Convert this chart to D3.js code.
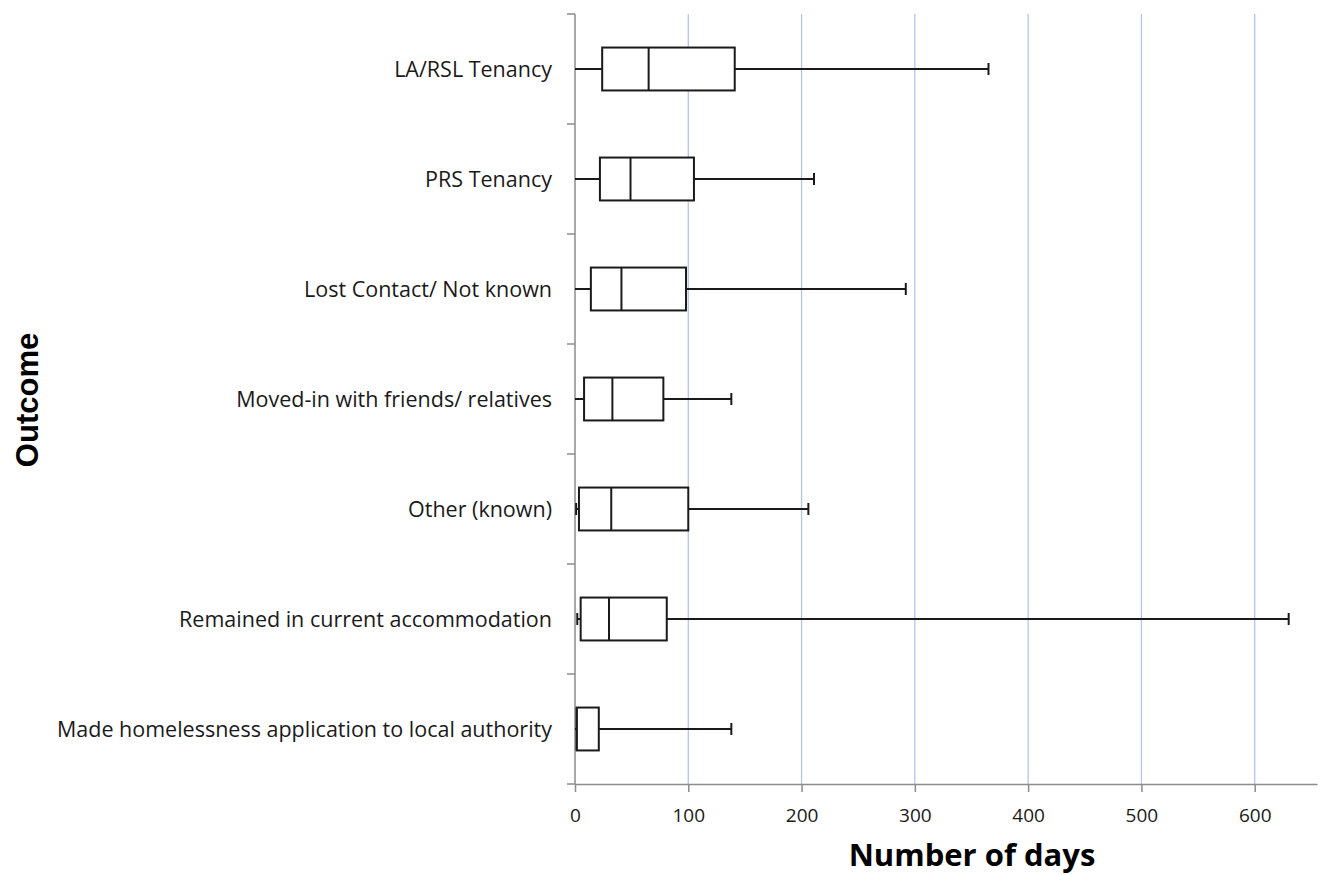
<!DOCTYPE html>
<html>
<head>
<meta charset="utf-8">
<script src="https://cdn.jsdelivr.net/npm/d3@7"></script>
<style>
  body { margin: 0; background: #fff; }
  svg { display: block; }
  text { font-family: "Open Sans", "Noto Sans", sans-serif; fill: #1a1a1a; }
</style>
</head>
<body>
<div id="chart"></div>
<script>
// categories top to bottom
const categories = [
    "LA/RSL Tenancy",
    "PRS Tenancy",
    "Lost Contact/ Not known",
    "Moved-in with friends/ relatives",
    "Other (known)",
    "Remained in current accommodation",
    "Made homelessness application to local authority"
];
const mins    = [0, 0, 0, 0, 1, 2, 0];
const q1s     = [24, 22, 14, 8, 3.5, 5, 1.5];
const medians = [65, 49, 41, 33, 32, 30, 1.5];
const q3s     = [141, 105, 98, 78, 100, 81, 21];
const maxes   = [365, 211, 292, 138, 206, 630, 138];
const xTicks  = [0, 100, 200, 300, 400, 500, 600];

const width = 1322, height = 875;
const plotLeft = 575, plotRight = 1317, plotTop = 14, plotBottom = 784;

const svg = d3.select("#chart").append("svg")
    .attr("width", width)
    .attr("height", height);

const x = d3.scaleLinear().domain([0, 655]).range([plotLeft, plotRight]);
const y = d3.scaleBand().domain(categories).range([plotTop, plotBottom]);

// gridlines
svg.append("g")
    .selectAll("line")
    .data(xTicks.filter(d => d > 0))
    .enter()
    .append("line")
    .attr("x1", d => x(d)).attr("x2", d => x(d))
    .attr("y1", plotTop).attr("y2", plotBottom)
    .style("stroke", "#b0c6ea")
    .style("stroke-width", 1.3);

// x axis
const xAxis = svg.append("g")
    .attr("transform", "translate(0," + plotBottom + ")")
    .call(d3.axisBottom(x).tickValues(xTicks).tickSize(8).tickSizeOuter(0).tickPadding(17));
xAxis.select(".domain").style("stroke", "#8c8c8c").style("stroke-width", 1.5);
xAxis.selectAll(".tick line").style("stroke", "#8c8c8c").style("stroke-width", 1.5);
xAxis.selectAll(".tick text")
    .style("font-size", "19px")
    .style("font-family", "'Open Sans', sans-serif")
    .style("fill", "#1a1a1a");

// y axis: line with ticks on band boundaries
const yg = svg.append("g");
yg.append("line")
    .attr("x1", plotLeft).attr("x2", plotLeft)
    .attr("y1", plotTop).attr("y2", plotBottom)
    .style("stroke", "#8c8c8c").style("stroke-width", 1.5);
const bounds = categories.map(c => y(c)).concat([y(categories[categories.length - 1]) + y.bandwidth()]);
yg.selectAll("line.tick")
    .data(bounds)
    .enter()
    .append("line")
    .attr("class", "tick")
    .attr("x1", plotLeft - 8).attr("x2", plotLeft)
    .attr("y1", d => d).attr("y2", d => d)
    .style("stroke", "#8c8c8c").style("stroke-width", 1.5);

yg.selectAll("text")
    .data(categories)
    .enter()
    .append("text")
    .attr("x", plotLeft - 23)
    .attr("y", d => y(d) + y.bandwidth() / 2)
    .attr("dy", "0.35em")
    .attr("text-anchor", "end")
    .style("font-size", "21.5px")
    .text(d => d);

// boxes
const boxH = y.bandwidth() * 0.39;
const capH = 12;
const rows = categories.map((c, i) => ({
    cat: c, min: mins[i], q1: q1s[i], med: medians[i], q3: q3s[i], max: maxes[i]
}));

const box = svg.append("g")
    .selectAll("g")
    .data(rows)
    .enter()
    .append("g")
    .attr("transform", d => "translate(0," + (y(d.cat) + y.bandwidth() / 2) + ")");

const stroke = "#1a1a1a";

// whiskers
box.append("line")
    .attr("x1", d => x(d.min)).attr("x2", d => x(d.q1))
    .attr("y1", 0).attr("y2", 0)
    .style("stroke", stroke).style("stroke-width", 2);
box.append("line")
    .attr("x1", d => x(d.q3)).attr("x2", d => x(d.max))
    .attr("y1", 0).attr("y2", 0)
    .style("stroke", stroke).style("stroke-width", 2);
// caps
box.append("line")
    .attr("x1", d => x(d.max)).attr("x2", d => x(d.max))
    .attr("y1", -capH / 2).attr("y2", capH / 2)
    .style("stroke", stroke).style("stroke-width", 2);
box.filter(d => d.min > 0).append("line")
    .attr("x1", d => x(d.min)).attr("x2", d => x(d.min))
    .attr("y1", -capH / 2).attr("y2", capH / 2)
    .style("stroke", stroke).style("stroke-width", 2);

box.append("rect")
    .attr("x", d => x(d.q1))
    .attr("y", -boxH / 2)
    .attr("width", d => x(d.q3) - x(d.q1))
    .attr("height", boxH)
    .style("fill", "#fff")
    .style("stroke", stroke)
    .style("stroke-width", 2);

box.append("line")
    .attr("x1", d => x(d.med)).attr("x2", d => x(d.med))
    .attr("y1", -boxH / 2).attr("y2", boxH / 2)
    .style("stroke", stroke).style("stroke-width", 2);

// axis titles
svg.append("text")
    .attr("x", 972)
    .attr("y", 866)
    .attr("text-anchor", "middle")
    .style("font-size", "31px")
    .style("font-weight", "bold")
    .style("fill", "#000")
    .text("Number of days");

svg.append("text")
    .attr("transform", "translate(38,400) rotate(-90)")
    .attr("text-anchor", "middle")
    .style("font-family", "'Liberation Sans', Arial, sans-serif")
    .style("font-size", "31px")
    .style("font-weight", "bold")
    .style("fill", "#000")
    .text("Outcome");
</script>
</body>
</html>
